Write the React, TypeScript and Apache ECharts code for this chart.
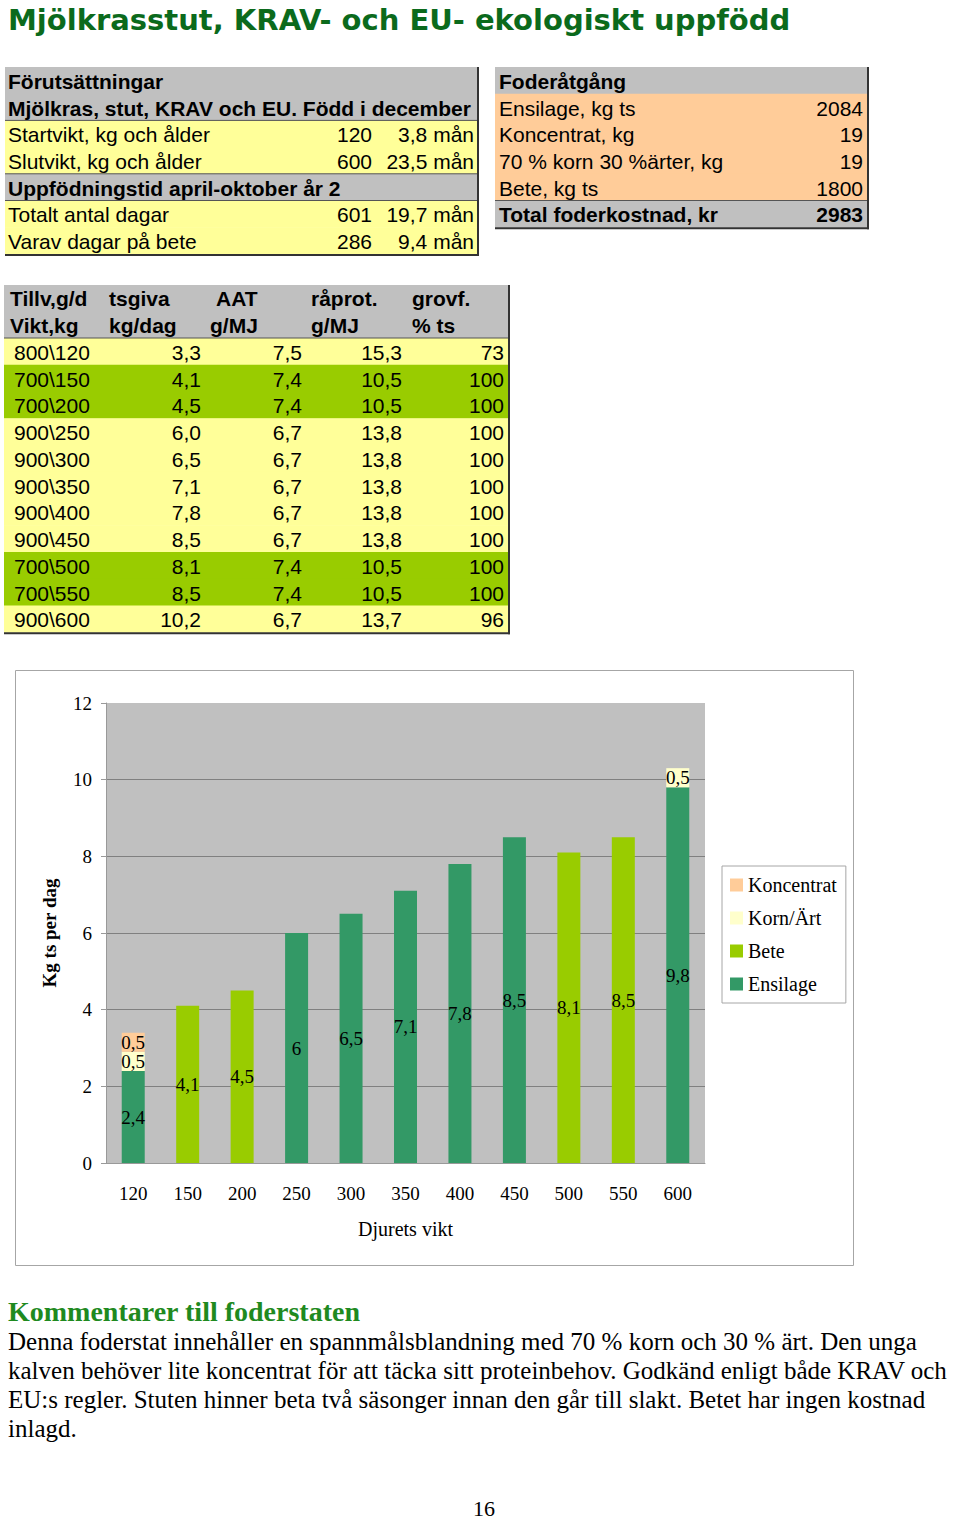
import React, { useEffect, useRef } from "react";
import * as echarts from "echarts";

// ---------- chart data ----------
const weights = ["120", "150", "200", "250", "300", "350", "400", "450", "500", "550", "600"];
const ensilage = [2.4, 0, 0, 6, 6.5, 7.1, 7.8, 8.5, 0, 0, 9.8];
const bete = [0, 4.1, 4.5, 0, 0, 0, 0, 0, 8.1, 8.5, 0];
const kornArt = [0.5, 0, 0, 0, 0, 0, 0, 0, 0, 0, 0.5];
const koncentrat = [0.5, 0, 0, 0, 0, 0, 0, 0, 0, 0, 0];
const legendOrder = ["Koncentrat", "Korn/Ärt", "Bete", "Ensilage"];

// ---------- table 1: Förutsättningar ----------
const t1Kinds = ["head", "head", "row", "row", "head", "row", "row"];
const t1Labels = [
  "Förutsättningar",
  "Mjölkras, stut, KRAV och EU. Född i december",
  "Startvikt, kg och ålder",
  "Slutvikt, kg och ålder",
  "Uppfödningstid april-oktober år 2",
  "Totalt antal dagar",
  "Varav dagar på bete",
];
const t1Nums = ["", "", "120", "600", "", "601", "286"];
const t1Ages = ["", "", "3,8 mån", "23,5 mån", "", "19,7 mån", "9,4 mån"];

// ---------- table 2: Foderåtgång ----------
const t2Kinds = ["head", "row", "row", "row", "row", "total"];
const t2Labels = [
  "Foderåtgång",
  "Ensilage, kg ts",
  "Koncentrat, kg",
  "70 % korn 30 %ärter, kg",
  "Bete, kg ts",
  "Total foderkostnad, kr",
];
const t2Values = ["", "2084", "19", "19", "1800", "2983"];

// ---------- table 3: foderstat ----------
const t3Head1 = ["Tillv,g/d", "tsgiva", "AAT", "råprot.", "grovf."];
const t3Head2 = ["Vikt,kg", "kg/dag", "g/MJ", "g/MJ", "% ts"];
const t3Rows = ["800\\120", "700\\150", "700\\200", "900\\250", "900\\300", "900\\350", "900\\400", "900\\450", "700\\500", "700\\550", "900\\600"];
const t3Tsgiva = ["3,3", "4,1", "4,5", "6,0", "6,5", "7,1", "7,8", "8,5", "8,1", "8,5", "10,2"];
const t3Aat = ["7,5", "7,4", "7,4", "6,7", "6,7", "6,7", "6,7", "6,7", "7,4", "7,4", "6,7"];
const t3Raprot = ["15,3", "10,5", "10,5", "13,8", "13,8", "13,8", "13,8", "13,8", "10,5", "10,5", "13,7"];
const t3Grovf = ["73", "100", "100", "100", "100", "100", "100", "100", "100", "100", "96"];
const t3Green = [false, true, true, false, false, false, false, false, true, true, false];

// ---------- texts ----------
const pageTitle = "Mjölkrasstut, KRAV- och EU- ekologiskt uppfödd";
const commentTitle = "Kommentarer till foderstaten";
const commentLines = [
  "Denna foderstat innehåller en spannmålsblandning med 70 % korn och 30 % ärt. Den unga",
  "kalven behöver lite koncentrat för att täcka sitt proteinbehov. Godkänd enligt både KRAV och",
  "EU:s regler. Stuten hinner beta två säsonger innan den går till slakt. Betet har ingen kostnad",
  "inlagd.",
];
const pageNumber = "16";

const SANS = '"Liberation Sans", Arial, sans-serif';
const SERIF = '"Liberation Serif", "Times New Roman", serif';
const GRAY = "#c0c0c0";
const YELLOW = "#ffff99";
const PEACH = "#ffcc99";
const LGREEN = "#99cc00";

function rect(x: number, y: number, w: number, h: number, fill: string, z = 0): any {
  return { type: "rect", silent: true, z, shape: { x, y, width: w, height: h }, style: { fill } };
}
function txt(s: string, x: number, y: number, font: string, align = "left", fill = "#000"): any {
  return {
    type: "text",
    silent: true,
    z: 5,
    x,
    y,
    style: {
      text: s,
      font,
      fill,
      textAlign: align,
      textVerticalAlign: "middle",
      align,
      verticalAlign: "middle",
    },
  };
}
function hline(x1: number, x2: number, y: number, color: string, w = 1): any {
  return { type: "line", silent: true, z: 4, shape: { x1, y1: y, x2, y2: y }, style: { stroke: color, lineWidth: w } };
}
function vline(x: number, y1: number, y2: number, color: string, w = 1): any {
  return { type: "line", silent: true, z: 4, shape: { x1: x, y1, x2: x, y2 }, style: { stroke: color, lineWidth: w } };
}

function buildGraphics(): any[] {
  const g: any[] = [];
  const fNorm = `21px ${SANS}`;
  const fBold = `bold 21px ${SANS}`;

  // title
  g.push(txt(pageTitle, 8, 20, `bold 29px "DejaVu Sans", Verdana, sans-serif`, "left", "#0b6a1c"));

  // table 1
  {
    const x0 = 5, x1 = 477, y0 = 67, rh = 26.7;
    t1Kinds.forEach((k, i) => {
      const y = y0 + i * rh;
      g.push(rect(x0, y, x1 - x0, rh + 0.5, k === "head" ? GRAY : YELLOW));
      const cy = y + rh / 2 + 1;
      g.push(txt(t1Labels[i], 8, cy, k === "head" ? fBold : fNorm));
      if (t1Nums[i]) g.push(txt(t1Nums[i], 372, cy, fNorm, "right"));
      if (t1Ages[i]) g.push(txt(t1Ages[i], 474, cy, fNorm, "right"));
    });
    [2, 4, 5].forEach((i) => g.push(hline(x0, x1, y0 + i * rh, "#555")));
    g.push(hline(x0, x1 + 2, y0 + 7 * rh + 1, "#333", 2));
    g.push(vline(x1 + 1, y0, y0 + 7 * rh + 2, "#333", 2));
  }

  // table 2
  {
    const x0 = 495, x1 = 867, y0 = 67, rh = 26.7;
    t2Kinds.forEach((k, i) => {
      const y = y0 + i * rh;
      g.push(rect(x0, y, x1 - x0, rh + 0.5, k === "row" ? PEACH : GRAY));
      const cy = y + rh / 2 + 1;
      const f = k === "row" ? fNorm : fBold;
      g.push(txt(t2Labels[i], 499, cy, f));
      if (t2Values[i]) g.push(txt(t2Values[i], 863, cy, f, "right"));
    });
    g.push(hline(x0, x1, y0 + 5 * rh, "#555"));
    g.push(hline(x0, x1 + 2, y0 + 6 * rh + 1, "#333", 2));
    g.push(vline(x1 + 1, y0, y0 + 6 * rh + 2, "#333", 2));
  }

  // table 3
  {
    const x0 = 4, x1 = 508, yh = 285, hh = 53, rh = 26.75;
    g.push(rect(x0, yh, x1 - x0, hh, GRAY));
    const hx1 = [10, 109, 216, 311, 412];
    const hx2 = [10, 109, 210, 311, 412];
    t3Head1.forEach((s, i) => g.push(txt(s, hx1[i], yh + 13, fBold)));
    t3Head2.forEach((s, i) => g.push(txt(s, hx2[i], yh + 40, fBold)));
    const y0 = yh + hh;
    g.push(hline(x0, x1, y0, "#555"));
    t3Rows.forEach((r, i) => {
      const y = y0 + i * rh;
      g.push(rect(x0, y, x1 - x0, rh + 0.5, t3Green[i] ? LGREEN : YELLOW));
      const cy = y + rh / 2 + 1;
      g.push(txt(r, 14, cy, fNorm));
      g.push(txt(t3Tsgiva[i], 201, cy, fNorm, "right"));
      g.push(txt(t3Aat[i], 302, cy, fNorm, "right"));
      g.push(txt(t3Raprot[i], 402, cy, fNorm, "right"));
      g.push(txt(t3Grovf[i], 504, cy, fNorm, "right"));
    });
    const yb = y0 + t3Rows.length * rh;
    g.push(hline(x0, x1 + 2, yb + 1, "#333", 2));
    g.push(vline(x1 + 1, yh, yb + 2, "#333", 2));
  }

  // chart frame
  g.push({
    type: "rect",
    silent: true,
    z: -1,
    shape: { x: 15.5, y: 670.5, width: 838, height: 595 },
    style: { fill: "none", stroke: "#a6a6a6", lineWidth: 1 },
  });

  // comment section
  g.push(txt(commentTitle, 8, 1311, `bold 28px ${SERIF}`, "left", "#1f8a1f"));
  commentLines.forEach((l, i) => g.push(txt(l, 8, 1341 + i * 29, `25px ${SERIF}`)));
  g.push(txt(pageNumber, 484, 1508, `22px ${SERIF}`, "center"));

  return g;
}

function barSeries(name: string, data: number[], color: string): any {
  return {
    name,
    type: "bar",
    stack: "total",
    data,
    barWidth: 23,
    itemStyle: { color },
    label: {
      show: true,
      position: "inside",
      fontSize: 19,
      fontFamily: SERIF,
      color: "#000",
      formatter: (p: any) => (p.value ? String(p.value).replace(".", ",") : ""),
    },
  };
}

export default function App() {
  const ref = useRef<HTMLDivElement>(null);
  useEffect(() => {
    if (!ref.current) return;
    const chart = echarts.init(ref.current, undefined, { renderer: "svg" });
    const option: any = {
      animation: false,
      backgroundColor: "#fff",
      textStyle: { fontFamily: SERIF },
      graphic: { elements: buildGraphics() },
      grid: {
        left: 106,
        top: 703,
        width: 599,
        height: 460,
        show: true,
        backgroundColor: GRAY,
        borderWidth: 0,
      },
      legend: {
        orient: "vertical",
        left: 722,
        top: 866,
        data: legendOrder,
        icon: "rect",
        itemWidth: 13,
        itemHeight: 13,
        itemGap: 13,
        padding: [9, 9, 9, 8],
        borderColor: "#a6a6a6",
        borderWidth: 1,
        backgroundColor: "#fff",
        textStyle: { fontSize: 20, color: "#000", fontFamily: SERIF },
      },
      xAxis: {
        type: "category",
        data: weights,
        name: "Djurets vikt",
        nameLocation: "middle",
        nameGap: 56,
        nameTextStyle: { fontSize: 20, color: "#000", fontFamily: SERIF },
        axisLine: { lineStyle: { color: "#999" } },
        axisTick: { length: 5, lineStyle: { color: "#999" } },
        axisLabel: { fontSize: 19, color: "#000", margin: 21, fontFamily: SERIF },
      },
      yAxis: {
        type: "value",
        min: 0,
        max: 12,
        interval: 2,
        name: "Kg ts per dag",
        nameLocation: "middle",
        nameGap: 47,
        nameTextStyle: { fontSize: 19, fontWeight: "bold", color: "#000", fontFamily: SERIF },
        axisLine: { show: true, lineStyle: { color: "#999" } },
        axisTick: { show: true, length: 5, lineStyle: { color: "#999" } },
        axisLabel: { fontSize: 19, color: "#000", margin: 14, fontFamily: SERIF },
        splitLine: {
          show: true,
          lineStyle: { color: ["#808080", "#808080", "#808080", "#808080", "#808080", "#808080", GRAY] },
        },
      },
      series: [
        barSeries("Ensilage", ensilage, "#339966"),
        barSeries("Bete", bete, "#99cc00"),
        barSeries("Korn/Ärt", kornArt, "#ffffcc"),
        barSeries("Koncentrat", koncentrat, "#ffcc99"),
      ],
    };
    chart.setOption(option);
    return () => chart.dispose();
  }, []);
  return (
    <div
      ref={ref}
      style={{ position: "absolute", left: 0, top: 0, width: 960, height: 1521, background: "#fff" }}
    />
  );
}
